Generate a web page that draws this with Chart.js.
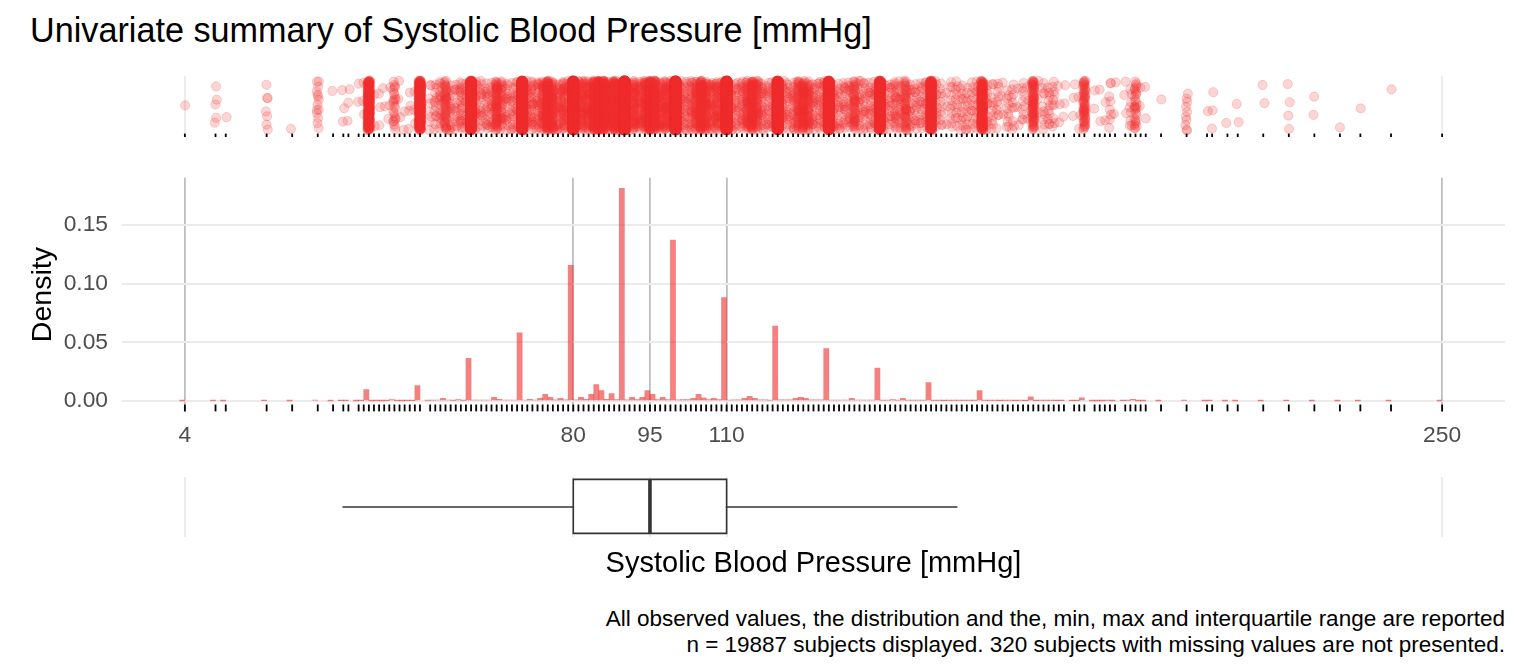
<!DOCTYPE html>
<html lang="en">
<head>
  <meta charset="UTF-8">
  <title>Univariate summary of Systolic Blood Pressure [mmHg]</title>
  <!-- Load Chart.js from CDN -->
  <script src="https://cdn.jsdelivr.net/npm/chart.js"></script>
  <style>
    body {
      margin: 0;
      background: #fff;
      font-family: "Liberation Sans", Arial, sans-serif;
    }
    #page {
      position: relative;
      width: 1536px;
      height: 672px;
      overflow: hidden;
      background: #fff;
    }
    #title {
      position: absolute;
      left: 30px;
      top: 13px;
      font-size: 34.2px;
      line-height: 34px;
      color: #000;
      white-space: nowrap;
    }
    .panel {
      position: absolute;
      left: 0;
      width: 1536px;
    }
    #strip { top: 60px; height: 90px; }
    #hist { top: 150px; height: 300px; }
    #box { top: 460px; height: 140px; }
    #caption {
      position: absolute;
      right: 31px;
      top: 606px;
      font-size: 22.5px;
      line-height: 26px;
      text-align: right;
      color: #000;
      white-space: nowrap;
    }
  </style>
</head>
<body>
<div id="page">
  <div id="title">Univariate summary of Systolic Blood Pressure [mmHg]</div>
  <div class="panel" id="strip"><canvas id="stripChart"></canvas></div>
  <div class="panel" id="hist"><canvas id="histChart"></canvas></div>
  <div class="panel" id="box"><canvas id="boxChart"></canvas></div>
  <div id="caption">All observed values, the distribution and the, min, max and interquartile range are reported<br>n = 19887 subjects displayed. 320 subjects with missing values are not presented.</div>
</div>

<script>
  // ---- data ----
  const N = 19887;                              // subjects displayed
  const breaks = [4, 80, 95, 110, 250];         // min, Q1, median, Q3, max (x tick labels)
  const boxStats = [35, 80, 95, 110, 155];      // lower whisker, Q1, median, Q3, upper whisker
  const densityTicks = [0, 0.05, 0.10, 0.15];

  // distinct observed values (rug) and how many subjects have each value
  const obsValues = [
    4, 10, 12, 20, 25, 30, 33, 35, 36, 38,
    39, 40, 41, 42, 43, 44, 45, 46, 47, 48,
    49, 50, 52, 53, 54, 55, 56, 57, 58, 59,
    60, 61, 62, 63, 64, 65, 66, 67, 68, 69,
    70, 71, 72, 73, 74, 75, 76, 77, 78, 79,
    80, 81, 82, 83, 84, 85, 86, 87, 88, 89,
    90, 91, 92, 93, 94, 95, 96, 97, 98, 99,
    100, 101, 102, 103, 104, 105, 106, 107, 108, 109,
    110, 111, 112, 113, 114, 115, 116, 117, 118, 119,
    120, 121, 122, 123, 124, 125, 126, 127, 128, 129,
    130, 131, 132, 133, 134, 135, 136, 137, 138, 139,
    140, 141, 142, 143, 144, 145, 146, 147, 148, 149,
    150, 151, 152, 153, 154, 155, 156, 157, 158, 159,
    160, 161, 162, 163, 164, 165, 166, 167, 168, 169,
    170, 171, 172, 173, 174, 175, 176, 178, 179, 180,
    182, 183, 184, 185, 186, 188, 189, 190, 191, 192,
    195, 200, 204, 205, 208, 210, 215, 220, 225, 230,
    234, 240, 250
  ];
  const obsCounts = [
    1, 5, 1, 7, 1, 14, 1, 3, 3, 2,
    3, 194, 2, 3, 2, 3, 24, 3, 2, 4,
    3, 260, 8, 12, 16, 45, 16, 10, 24, 10,
    724, 16, 16, 16, 16, 61, 28, 16, 16, 16,
    1155, 17, 28, 17, 45, 111, 61, 18, 45, 18,
    2300, 18, 61, 28, 111, 277, 177, 28, 127, 24,
    3607, 18, 61, 24, 61, 177, 111, 24, 61, 24,
    2729, 20, 22, 24, 45, 111, 55, 24, 45, 24,
    1752, 16, 20, 20, 45, 80, 45, 18, 18, 14,
    1271, 18, 18, 18, 45, 61, 45, 18, 18, 18,
    890, 16, 16, 16, 16, 45, 16, 16, 16, 16,
    559, 14, 14, 24, 14, 45, 14, 14, 14, 14,
    310, 11, 11, 3, 11, 11, 11, 11, 11, 11,
    177, 10, 10, 10, 3, 10, 10, 3, 10, 3,
    72, 3, 10, 10, 10, 3, 3, 3, 3, 55,
    2, 2, 2, 8, 2, 3, 8, 28, 2, 2,
    1, 10, 1, 3, 1, 2, 2, 4, 2, 1,
    1, 1, 1
  ];

  // ---- styling ----
  const RED = '238, 44, 44';
  const GRID_LIGHT = '#EBEBEB';
  const GRID_DARK = '#BEBEBE';
  const TICK_GREY = '#4D4D4D';

  Chart.defaults.font.family = '"Liberation Sans", Arial, sans-serif';
  Chart.defaults.animation = false;
  Chart.defaults.events = [];
  Chart.defaults.plugins.legend.display = false;
  Chart.defaults.plugins.tooltip.enabled = false;

  // ggplot style 5% expansion of the x range
  const span = breaks[4] - breaks[0];
  const xMin = breaks[0] - 0.05 * span;
  const xMax = breaks[4] + 0.05 * span;

  function xScale(extra) {
    return Object.assign({
      type: 'linear',
      min: xMin,
      max: xMax,
      offset: false,
      afterBuildTicks: function (s) { s.ticks = breaks.map(function (v) { return {value: v}; }); },
      grid: {color: GRID_LIGHT, lineWidth: 1.9, drawTicks: false, offset: false},
      border: {display: false},
      ticks: {display: false}
    }, extra);
  }

  function frac(t) { return t - Math.floor(t); }

  // ---- top strip: every subject as a jittered point ----
  // jitter is a fixed low-discrepancy layout, points pushed past the limits are dropped
  const stripPoints = [];
  obsValues.forEach(function (v, i) {
    for (let k = 0; k < obsCounts[i]; k++) {
      const x = v + (frac(0.62 + k * 0.7548776662 + i * 0.1) - 0.5) * 0.5;
      if (x < breaks[0] || x > breaks[4]) continue;
      const y = 0.11 + 0.815 * frac(0.5 + k * 0.5698402910 + i * 0.382 + 0.17 * frac(k * 0.3819660113));
      stripPoints.push({x: x, y: y});
    }
  });
  const stripRug = obsValues.map(function (v) { return {x: v, y: 0.028}; });

  new Chart(document.getElementById('stripChart'), {
    type: 'scatter',
    data: {
      datasets: [
        {
          data: stripRug,
          pointStyle: 'line',
          pointRotation: 90,
          pointRadius: 1.7,
          pointBorderColor: '#000',
          pointBorderWidth: 1.8,
          clip: false,
          order: 0
        },
        {
          data: stripPoints,
          parsing: false,
          pointRadius: 4.6,
          pointBackgroundColor: 'rgba(' + RED + ', 0.2)',
          pointBorderColor: 'rgba(' + RED + ', 0.2)',
          pointBorderWidth: 1,
          clip: false,
          order: 1
        }
      ]
    },
    options: {
      responsive: true,
      maintainAspectRatio: false,
      layout: {padding: {left: 122, right: 31, top: 16, bottom: 13}},
      scales: {
        x: xScale({afterFit: function (s) { s.height = 0; }}),
        y: {display: false, min: 0, max: 1}
      }
    }
  });

  // ---- histogram (density, bins of width 1) ----
  const histBars = obsValues.map(function (v, i) { return {x: v - 0.5, y: obsCounts[i] / N}; });
  let maxD = 0;
  histBars.forEach(function (b) { if (b.y > maxD) maxD = b.y; });
  const yMax = maxD * 1.05;
  const yMin = -maxD * 0.05;
  const histRug = obsValues.map(function (v) { return {x: v, y: yMin + 0.015 * (yMax - yMin)}; });

  new Chart(document.getElementById('histChart'), {
    type: 'bar',
    data: {
      datasets: [
        {
          type: 'scatter',
          data: histRug,
          pointStyle: 'line',
          pointRotation: 90,
          pointRadius: 3.6,
          pointBorderColor: '#000',
          pointBorderWidth: 1.8,
          order: 0
        },
        {
          type: 'bar',
          data: histBars,
          backgroundColor: 'rgba(' + RED + ', 0.6)',
          borderWidth: 0,
          barPercentage: 1,
          categoryPercentage: 1,
          order: 1
        }
      ]
    },
    options: {
      responsive: true,
      maintainAspectRatio: false,
      layout: {padding: {left: 0, right: 31, top: 22.1, bottom: 0}},
      scales: {
        x: xScale({
          grid: {color: GRID_DARK, lineWidth: 1.8, drawTicks: false, offset: false},
          ticks: {
            display: true,
            autoSkip: false,
            maxRotation: 0,
            padding: 10,
            color: TICK_GREY,
            font: {size: 22.8},
            callback: function (v) { return String(v); }
          },
          afterFit: function (s) { s.height = 38.4; }
        }),
        y: {
          type: 'linear',
          min: yMin,
          max: yMax,
          afterBuildTicks: function (s) { s.ticks = densityTicks.map(function (v) { return {value: v}; }); },
          grid: {color: GRID_LIGHT, lineWidth: 1.9, drawTicks: false},
          border: {display: false},
          ticks: {
            padding: 14,
            color: TICK_GREY,
            font: {size: 22.8},
            callback: function (v) { return v.toFixed(2); }
          },
          title: {
            display: true,
            text: 'Density',
            color: '#000',
            font: {size: 28.5},
            padding: {top: 26, bottom: 0}
          },
          afterFit: function (s) { s.width = 122; }
        }
      }
    }
  });

  // ---- boxplot ----
  const lw = boxStats[0], q1 = boxStats[1], med = boxStats[2], q3 = boxStats[3], uw = boxStats[4];
  const BOX_LO = 0.06, BOX_HI = 0.96, MID = 0.5;
  const lineStyle = {showLine: true, pointRadius: 0, borderColor: '#333333', borderWidth: 1.6, tension: 0, fill: false, borderCapStyle: 'square'};

  new Chart(document.getElementById('boxChart'), {
    type: 'scatter',
    data: {
      datasets: [
        Object.assign({data: [{x: lw, y: MID}, {x: q1, y: MID}]}, lineStyle),
        Object.assign({data: [{x: q3, y: MID}, {x: uw, y: MID}]}, lineStyle),
        Object.assign({data: [
          {x: q1, y: BOX_LO}, {x: q3, y: BOX_LO}, {x: q3, y: BOX_HI}, {x: q1, y: BOX_HI}, {x: q1, y: BOX_LO}
        ]}, lineStyle),
        Object.assign({}, lineStyle, {data: [{x: med, y: BOX_LO}, {x: med, y: BOX_HI}], borderWidth: 3.6, borderCapStyle: 'butt'})
      ]
    },
    options: {
      responsive: true,
      maintainAspectRatio: false,
      layout: {padding: {left: 122, right: 31, top: 17, bottom: 0}},
      scales: {
        x: xScale({
          title: {
            display: true,
            text: 'Systolic Blood Pressure [mmHg]',
            color: '#000',
            font: {size: 29},
            padding: {top: 0, bottom: 18.3}
          },
          afterFit: function (s) { s.height = 63; }
        }),
        y: {display: false, min: 0, max: 1}
      }
    }
  });
</script>
</body>
</html>
